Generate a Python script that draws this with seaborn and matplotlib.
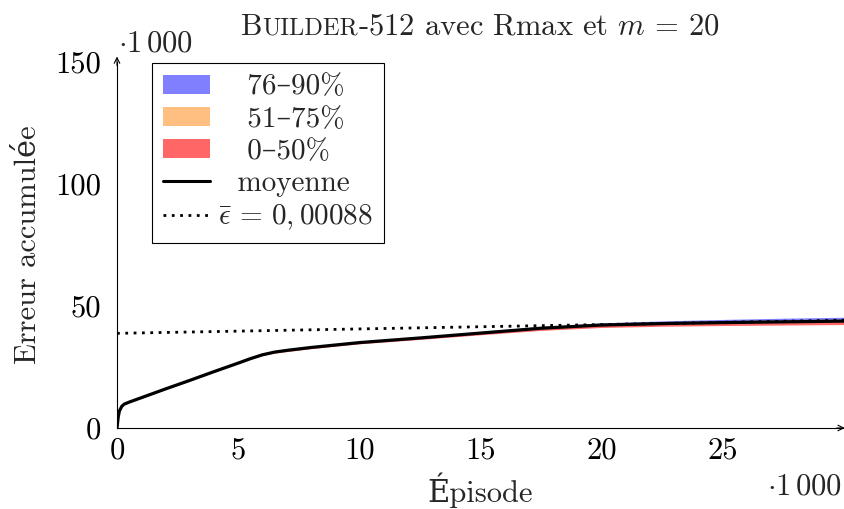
import matplotlib
matplotlib.use("Agg")
import numpy as np
import pandas as pd
import seaborn as sns
import matplotlib.pyplot as plt
from matplotlib.patches import Patch
from matplotlib.lines import Line2D
from matplotlib.offsetbox import TextArea, HPacker, AnnotationBbox

# ---------------- data (thousands) ----------------
episodes = [0, 0.05, 0.1, 0.2, 0.3, 0.5, 1, 2, 3, 4, 5, 5.5, 6, 6.5, 7, 8,
            10, 12.5, 15, 17.5, 20, 22.5, 25, 27.5, 30]
mean = [0, 4.5, 7.0, 8.9, 9.8, 10.6, 12.4, 16.0, 19.5, 23.1, 26.6, 28.4,
        30.0, 31.1, 31.8, 33.0, 35.0, 36.9, 38.9, 40.9, 42.2, 42.8, 43.2,
        43.5, 43.8]
p90 = [0, 4.5, 7.0, 8.9, 9.8, 10.7, 12.5, 16.1, 19.6, 23.2, 26.7, 28.5,
       30.1, 31.3, 32.0, 33.3, 35.4, 37.4, 39.5, 41.6, 43.1, 43.9, 44.5,
       45.0, 45.4]
p75 = [0, 4.5, 7.0, 8.9, 9.8, 10.65, 12.45, 16.05, 19.55, 23.15, 26.65,
       28.45, 30.05, 31.2, 31.9, 33.1, 35.15, 37.05, 39.1, 41.1, 42.5, 43.15,
       43.6, 43.95, 44.3]
p50 = [0, 4.5, 7.0, 8.9, 9.8, 10.6, 12.4, 16.0, 19.5, 23.1, 26.6, 28.4,
       30.0, 31.1, 31.8, 33.0, 35.0, 36.9, 38.9, 40.9, 42.2, 42.8, 43.2,
       43.5, 43.8]
p0 = [0, 4.4, 6.9, 8.8, 9.7, 10.4, 12.2, 15.8, 19.3, 22.8, 26.3, 28.1,
      29.7, 30.7, 31.3, 32.5, 34.5, 36.3, 38.2, 40.0, 41.2, 41.7, 42.0,
      42.2, 42.4]
eps_x = [0, 30]
eps_y = [38.8, 44.2]

xticks = [0, 5, 10, 15, 20, 25]
yticks = [0, 50, 100, 150]
band_labels = ["   76–90%", "   51–75%", "   0–50%"]
mean_label = "  moyenne"
eps_label = r"$\bar{\epsilon}\,=\,0,00088$"

df = pd.DataFrame({"ep": episodes, "mean": mean})
df_eps = pd.DataFrame({"ep": eps_x, "eps": eps_y})

# ---------------- style ----------------
sns.set_theme(style="white")
plt.rcParams["font.family"] = ["cmr10", "DejaVu Serif"]
plt.rcParams["mathtext.fontset"] = "cm"
plt.rcParams["axes.unicode_minus"] = False
plt.rcParams["axes.formatter.use_mathtext"] = True

FS = 22
LFS = 21
c_blue, c_orange, c_red = "#8080ff", "#ffbf80", "#ff6666"

fig = plt.figure(figsize=(8.45, 5.09), dpi=100)
ax = fig.add_axes([117 / 845, 1 - 428 / 509, 727 / 845, 366 / 509])

ax.fill_between(episodes, p0, p50, color=c_red, lw=0)
ax.fill_between(episodes, p50, p75, color=c_orange, lw=0)
ax.fill_between(episodes, p75, p90, color=c_blue, lw=0)
sns.lineplot(data=df_eps, x="ep", y="eps", ax=ax, color="black", lw=2.0,
             dashes=False, legend=False)
ax.lines[-1].set_linestyle((0, (1, 2)))
ax.lines[-1].set_dash_capstyle("butt")
sns.lineplot(data=df, x="ep", y="mean", ax=ax, color="black", lw=2.3,
             legend=False)

ax.set_xlim(0, 30)
ax.set_ylim(0, 150)
ax.set_xticks(xticks)
ax.set_yticks(yticks)
ax.set_xticklabels([str(t) for t in xticks])
ax.set_yticklabels([str(t) for t in yticks])
ax.tick_params(direction="inout", length=7, width=0.8, color="0.6",
               labelsize=FS, labelcolor="black")
ax.tick_params(axis="y", pad=8)
ax.tick_params(axis="x", pad=3)
for s in ["top", "right"]:
    ax.spines[s].set_visible(False)
for s in ["left", "bottom"]:
    ax.spines[s].set_color("black")
    ax.spines[s].set_linewidth(0.8)

ap = dict(arrowstyle="->", lw=0.8, color="black", shrinkA=0, shrinkB=0,
          mutation_scale=10)
ax.annotate("", xy=(1.001, 0), xytext=(0.99, 0), xycoords="axes fraction",
            arrowprops=ap, annotation_clip=False)
ax.annotate("", xy=(0, 1.015), xytext=(0, 0.99), xycoords="axes fraction",
            arrowprops=ap, annotation_clip=False)

ax.set_xlabel("Épisode", fontsize=FS)
ax.set_ylabel("Erreur accumulée", fontsize=FS)
ax.xaxis.set_label_coords(0.5, -0.122)
ax.yaxis.set_label_coords(-0.103, 0.5)

ax.text(0.001, 1.028, r"$\cdot 1\,000$", transform=ax.transAxes,
        fontsize=FS, ha="left", va="baseline")
ax.text(0.997, -0.182, r"$\cdot 1\,000$", transform=ax.transAxes,
        fontsize=FS, ha="right", va="baseline")

# title with small caps
parts = [TextArea("B", textprops=dict(fontsize=FS)),
         TextArea("UILDER", textprops=dict(fontsize=FS * 0.8)),
         TextArea(r"-512 avec Rmax et $m\,=\,20$",
                  textprops=dict(fontsize=FS))]
pack = HPacker(children=parts, align="baseline", pad=0, sep=0)
ab = AnnotationBbox(pack, (0.5, 1.0), xycoords="axes fraction",
                    xybox=(0, 25), boxcoords="offset points",
                    box_alignment=(0.5, 0.5), frameon=False,
                    annotation_clip=False)
ax.add_artist(ab)

handles = [Patch(facecolor=c_blue, edgecolor="none"),
           Patch(facecolor=c_orange, edgecolor="none"),
           Patch(facecolor=c_red, edgecolor="none"),
           Line2D([], [], color="black", lw=2.2),
           Line2D([], [], color="black", lw=2.0, linestyle=(0, (1, 2)))]
labels = band_labels + [mean_label, eps_label]
leg = ax.legend(handles, labels, loc="upper left",
                bbox_to_anchor=(0.048, 0.997), borderaxespad=0,
                fontsize=LFS, frameon=True, fancybox=False, framealpha=1,
                edgecolor="black", handlelength=1.6, handleheight=0.6,
                handletextpad=0.3, labelspacing=0.2, borderpad=0.38)
leg.get_frame().set_linewidth(0.8)

fig.savefig("out.png", dpi=100)
